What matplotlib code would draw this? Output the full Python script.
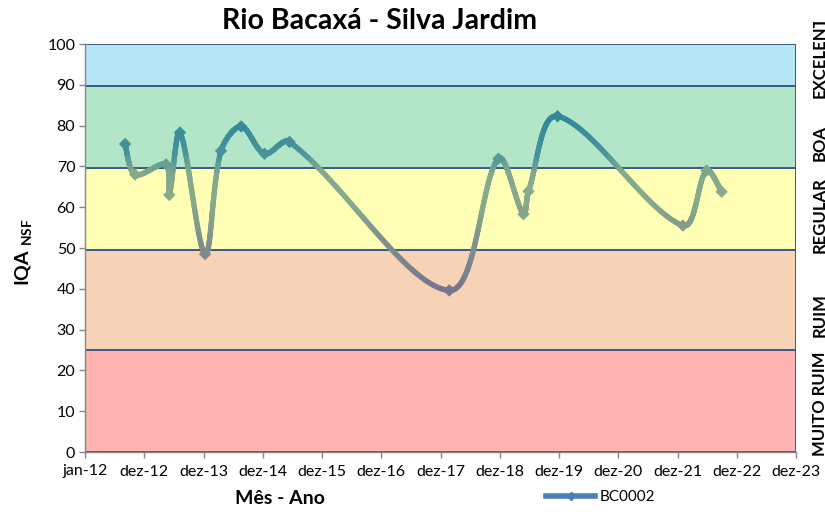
import numpy as np
import matplotlib
matplotlib.use("Agg")
import matplotlib.pyplot as plt
import matplotlib.dates as mdates
from matplotlib.collections import LineCollection
from matplotlib.colors import LinearSegmentedColormap
from matplotlib.lines import Line2D
from matplotlib.patches import Rectangle
from matplotlib.transforms import Bbox

plt.rcParams['font.family'] = ['Lato', 'DejaVu Sans']
plt.rcParams['mathtext.fontset'] = 'custom'
plt.rcParams['mathtext.bf'] = 'Lato:bold'
plt.rcParams['mathtext.rm'] = 'Lato'

# ---------------- data ----------------
dates = ["2012-09-04", "2012-11-05", "2013-05-14", "2013-06-03", "2013-08-08",
         "2014-01-10", "2014-04-18", "2014-08-20", "2015-01-11", "2015-06-14",
         "2018-02-22", "2018-12-22", "2019-05-25", "2019-06-25", "2019-12-21",
         "2022-01-31", "2022-06-26", "2022-09-27"]
iqa = [75.5, 68.0, 70.5, 63.0, 78.3,
       48.5, 73.8, 79.8, 73.1, 76.0,
       39.6, 71.9, 58.3, 63.9, 82.3,
       55.5, 69.0, 63.8]
series_name = "BC0002"

tick_labels = ["jan-12", "dez-12", "dez-13", "dez-14", "dez-15", "dez-16",
               "dez-17", "dez-18", "dez-19", "dez-20", "dez-21", "dez-22", "dez-23"]

band_limits = [0, 25, 49.6, 69.6, 89.6, 100]
band_names = ["MUITO RUIM", "RUIM", "REGULAR", "BOA", "EXCELENTE"]
band_colors = ["#FFB3B3", "#F6D3B6", "#FFFFB6", "#B3E6C9", "#B5E6F6"]

# ---------------- figure ----------------
W, H = 825, 512
fig = plt.figure(figsize=(W / 100, H / 100), dpi=100)
L, R, T, B = 85, 796, 44, 452
ax = fig.add_axes([L / W, 1 - B / H, (R - L) / W, (B - T) / H])

x = mdates.date2num(np.array(dates, dtype="datetime64[D]"))
y = np.array(iqa, dtype=float)
x0 = mdates.date2num(np.datetime64("2012-01-01"))
ticks = x0 + 365 * np.arange(len(tick_labels))

ax.set_xlim(ticks[0], ticks[-1])
ax.set_ylim(0, 100)

navy = "#3B5A8A"
for i in range(len(band_names)):
    ax.add_patch(Rectangle((ticks[0], band_limits[i]), ticks[-1] - ticks[0],
                           band_limits[i + 1] - band_limits[i],
                           facecolor=band_colors[i], edgecolor=navy, lw=1.4, zorder=1))

# smoothed line (Excel-like Bezier), computed in pixel space
sx = (R - L) / (ticks[-1] - ticks[0])
sy = (B - T) / 100.0
pts = np.column_stack([(x - ticks[0]) * sx, y * sy])
n = len(pts)
s = 1 / 3.0

out_ctrl = np.zeros_like(pts)
in_ctrl = np.zeros_like(pts)
for i in range(n):
    if i == 0:
        tvec = pts[1] - pts[0]
        out_ctrl[i] = pts[i] + tvec / 6
        continue
    if i == n - 1:
        tvec = pts[-1] - pts[-2]
        in_ctrl[i] = pts[i] - tvec / 6
        continue
    tvec = pts[i + 1] - pts[i - 1]
    d_in = np.hypot(*(pts[i] - pts[i - 1]))
    d_out = np.hypot(*(pts[i + 1] - pts[i]))
    out_ctrl[i] = pts[i] + tvec * d_out / (d_in + d_out) * s
    in_ctrl[i] = pts[i] - tvec * d_in / (d_in + d_out) * s

curve = []
tt = np.linspace(0, 1, 80)
for i in range(n - 1):
    p1, c1, c2, p2 = pts[i], out_ctrl[i], in_ctrl[i + 1], pts[i + 1]
    seg = ((1 - tt) ** 3)[:, None] * p1 + (3 * (1 - tt) ** 2 * tt)[:, None] * c1 \
        + (3 * (1 - tt) * tt ** 2)[:, None] * c2 + (tt ** 3)[:, None] * p2
    if i > 0:
        seg = seg[1:]
    curve.append(seg)
curve = np.vstack(curve)
curve = np.column_stack([curve[:, 0] / sx + ticks[0], curve[:, 1] / sy])

cmap = LinearSegmentedColormap.from_list("iqa", [
    (0.00, "#75728D"),
    (0.25, "#7D8C8E"),
    (0.50, "#88AA8B"),
    (0.66, "#84A98C"),
    (0.76, "#4A949B"),
    (1.00, "#2B8698")])
vmin, vmax = 38, 84
segs = np.stack([curve[:-1], curve[1:]], axis=1)
ymid = 0.5 * (curve[:-1, 1] + curve[1:, 1])
lc = LineCollection(segs, colors=cmap((ymid - vmin) / (vmax - vmin)),
                    linewidths=3.8, capstyle="round", joinstyle="round", zorder=3)
ax.add_collection(lc)
ax.scatter(x, y, marker="D", s=40, c=cmap((y - vmin) / (vmax - vmin)),
           edgecolors="none", zorder=4)

# axes styling
ax.set_xticks(ticks)
ax.set_xticklabels(tick_labels)
ax.set_yticks(np.arange(0, 101, 10))
for sp in ["top", "right"]:
    ax.spines[sp].set_visible(False)
for sp in ["left", "bottom"]:
    ax.spines[sp].set_color("#868686")
    ax.spines[sp].set_linewidth(1.0)
ax.tick_params(axis="both", colors="#868686", length=4, width=1.0,
               labelcolor="black", labelsize=11.5)
ax.tick_params(axis="x", pad=5)
ax.tick_params(axis="y", pad=3)

fig.text(380 / W, 1 - 21 / H, "Rio Bacaxá - Silva Jardim", ha="center", va="center",
         fontsize=20.5, fontweight="bold")
fig.text(280 / W, 1 - 499 / H, "Mês - Ano", ha="center", va="center",
         fontsize=14, fontweight="bold")
fig.text(24 / W, 1 - 252 / H, r"IQA $_{\mathbf{NSF}}$", ha="center", va="center",
         rotation=90, fontsize=14, fontweight="bold")

# right-side class labels (partly cut by the figure edge, as in the original)
label_centers_px = [404, 315, 215, 143, 52]
clip_top_px = [0, 0, 0, 0, 22]
for name, cy, ct in zip(band_names, label_centers_px, clip_top_px):
    t = fig.text(812 / W, 1 - cy / H, name, rotation=90, ha="left", va="center",
                 fontsize=12, fontweight="bold")
    if ct > 0:
        t.set_clip_box(Bbox([[0, 0], [W, H - ct]]))
        t.set_clip_on(True)

handle = Line2D([], [], color="#4A7EBB", lw=4, marker="D", markersize=4)
fig.legend([handle], [series_name], loc="center left",
           bbox_to_anchor=(540 / W, 1 - 497 / H), frameon=False,
           fontsize=11, handlelength=3.2, handletextpad=0.3, borderaxespad=0)

fig.savefig("out.png", dpi=100)
